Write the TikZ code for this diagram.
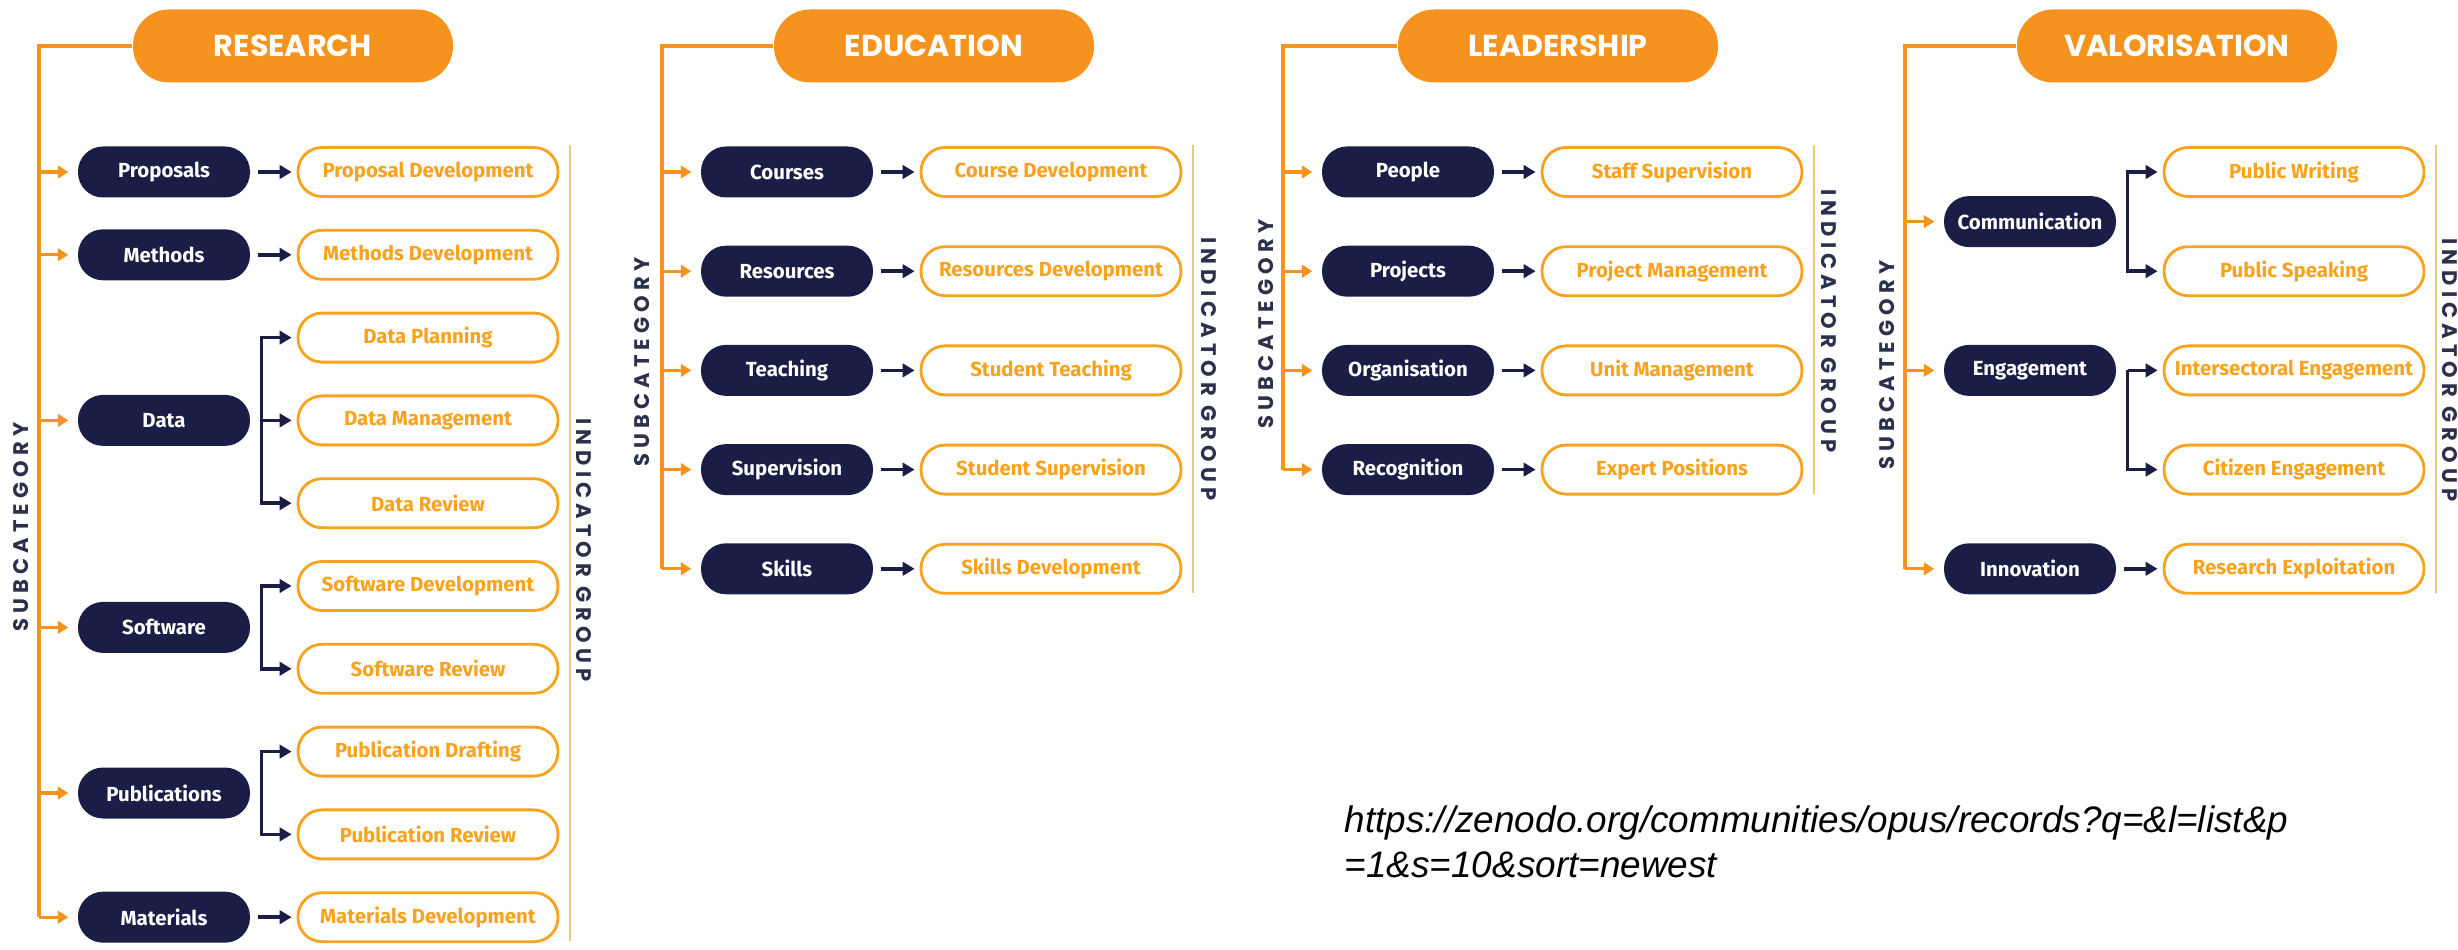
\documentclass[tikz,border=0pt]{standalone}
\usepackage{fontspec}
\usepackage{xcolor}
\usetikzlibrary{shapes,arrows.meta,positioning}
\setmainfont{Fira Sans}
\newfontfamily\headfont{Poppins}
\newfontfamily\labelfont[LetterSpace=24]{Poppins}
\newfontfamily\urlfont{Liberation Sans}
\definecolor{brandorange}{RGB}{246,146,30}
\definecolor{lineorange}{RGB}{248,162,30}
\definecolor{navy}{RGB}{26,30,70}
\definecolor{labelnavy}{RGB}{45,48,75}
\definecolor{barcolor}{RGB}{232,205,120}

\begin{document}
\begin{tikzpicture}[
    head/.style={rectangle, rounded corners=0.36cm, fill=brandorange, minimum width=3.2cm, minimum height=0.73cm, text=white, font=\headfont\bfseries\fontsize{8.6}{10}\selectfont},
    sub/.style={rectangle, rounded corners=0.25cm, fill=navy, minimum width=1.72cm, minimum height=0.51cm, inner xsep=1pt, text=white, font=\bfseries\fontsize{5.8}{7}\selectfont},
    ind/.style={rectangle, rounded corners=0.24cm, draw=lineorange, line width=0.8pt, fill=white, minimum width=2.6cm, minimum height=0.49cm, inner xsep=1pt, text=lineorange, font=\bfseries\fontsize{5.8}{7}\selectfont},
    sideline/.style={draw=brandorange, line width=0.9pt},
    subarrow/.style={draw=brandorange, line width=0.9pt, -{Triangle[length=3pt,width=3.6pt]}, shorten >=0.09cm},
    indarrow/.style={draw=navy, line width=1pt, -{Triangle[length=3.4pt,width=3.8pt]}, shorten >=0.05cm},
    groupbar/.style={draw=barcolor, line width=0.45pt},
    sublabel/.style={rotate=90, text=labelnavy, font=\labelfont\bfseries\fontsize{6}{7}\selectfont},
    grouplabel/.style={rotate=-90, text=labelnavy, font=\labelfont\bfseries\fontsize{6}{7}\selectfont},
    urltext/.style={inner sep=0pt, anchor=base west, font=\urlfont\itshape\fontsize{10.5}{12.6}\selectfont}
]
\useasboundingbox (0,0) rectangle (24.58,-9.5);

% Research
\node[head] (rhead) at (2.93,-0.46) {RESEARCH};
\node[sub] (rprop) at (1.64,-1.72) {Proposals};
\node[sub] (rmeth) at (1.64,-2.548) {Methods};
\node[sub] (rdata) at (1.64,-4.204) {Data};
\node[sub] (rsoft) at (1.64,-6.274) {Software};
\node[sub] (rpubl) at (1.64,-7.93) {Publications};
\node[sub] (rmat) at (1.64,-9.172) {Materials};
\node[ind] (rpropdev) at (4.28,-1.72) {Proposal Development};
\node[ind] (rmethdev) at (4.28,-2.548) {Methods Development};
\node[ind] (rdplan) at (4.28,-3.376) {Data Planning};
\node[ind] (rdman) at (4.28,-4.204) {Data Management};
\node[ind] (rdrev) at (4.28,-5.032) {Data Review};
\node[ind] (rsdev) at (4.28,-5.86) {Software Development};
\node[ind] (rsrev) at (4.28,-6.688) {Software Review};
\node[ind] (rpdraft) at (4.28,-7.516) {Publication Drafting};
\node[ind] (rprev) at (4.28,-8.344) {Publication Review};
\node[ind] (rmatdev) at (4.28,-9.172) {Materials Development};
\node[sublabel] (rsublabel) at (0.21,-5.27) {SUBCATEGORY};
\node[grouplabel] (rgrouplabel) at (5.84,-5.50) {INDICATOR GROUP};
\coordinate (rtrunk) at (0.39,-9.172);
\coordinate (rbartop) at (5.70,-1.45);
\coordinate (rbarbot) at (5.70,-9.41);
\draw[sideline] (rhead.west) -| (rtrunk);
\draw[groupbar] (rbartop) -- (rbarbot);
\draw[subarrow] (rtrunk |- rprop) -- (rprop);
\draw[subarrow] (rtrunk |- rmeth) -- (rmeth);
\draw[subarrow] (rtrunk |- rdata) -- (rdata);
\draw[subarrow] (rtrunk |- rsoft) -- (rsoft);
\draw[subarrow] (rtrunk |- rpubl) -- (rpubl);
\draw[subarrow] (rtrunk) -- (rmat);
\draw[indarrow, shorten <=0.07cm] (rprop) -- (rpropdev);
\draw[indarrow, shorten <=0.07cm] (rmeth) -- (rmethdev);
\draw[indarrow] ([xshift=0.11cm]rdata.east) |- (rdplan);
\draw[indarrow, shorten <=0.11cm] (rdata) -- (rdman);
\draw[indarrow] ([xshift=0.11cm]rdata.east) |- (rdrev);
\draw[indarrow] ([xshift=0.11cm]rsoft.east) |- (rsdev);
\draw[indarrow] ([xshift=0.11cm]rsoft.east) |- (rsrev);
\draw[indarrow] ([xshift=0.11cm]rpubl.east) |- (rpdraft);
\draw[indarrow] ([xshift=0.11cm]rpubl.east) |- (rprev);
\draw[indarrow, shorten <=0.07cm] (rmat) -- (rmatdev);

% Education
\node[head] (ehead) at (9.34,-0.46) {EDUCATION};
\node[sub] (ecour) at (7.87,-1.72) {Courses};
\node[sub] (eres) at (7.87,-2.712) {Resources};
\node[sub] (eteach) at (7.87,-3.704) {Teaching};
\node[sub] (esup) at (7.87,-4.696) {Supervision};
\node[sub] (eskill) at (7.87,-5.688) {Skills};
\node[ind] (ecourdev) at (10.51,-1.72) {Course Development};
\node[ind] (eresdev) at (10.51,-2.712) {Resources Development};
\node[ind] (estteach) at (10.51,-3.704) {Student Teaching};
\node[ind] (estsup) at (10.51,-4.696) {Student Supervision};
\node[ind] (eskilldev) at (10.51,-5.688) {Skills Development};
\node[sublabel] (esublabel) at (6.42,-3.62) {SUBCATEGORY};
\node[grouplabel] (egrouplabel) at (12.09,-3.69) {INDICATOR GROUP};
\coordinate (etrunk) at (6.62,-5.688);
\coordinate (ebartop) at (11.93,-1.45);
\coordinate (ebarbot) at (11.93,-5.93);
\draw[sideline] (ehead.west) -| (etrunk);
\draw[groupbar] (ebartop) -- (ebarbot);
\draw[subarrow] (etrunk |- ecour) -- (ecour);
\draw[subarrow] (etrunk |- eres) -- (eres);
\draw[subarrow] (etrunk |- eteach) -- (eteach);
\draw[subarrow] (etrunk |- esup) -- (esup);
\draw[subarrow] (etrunk) -- (eskill);
\draw[indarrow, shorten <=0.07cm] (ecour) -- (ecourdev);
\draw[indarrow, shorten <=0.07cm] (eres) -- (eresdev);
\draw[indarrow, shorten <=0.07cm] (eteach) -- (estteach);
\draw[indarrow, shorten <=0.07cm] (esup) -- (estsup);
\draw[indarrow, shorten <=0.07cm] (eskill) -- (eskilldev);

% Leadership
\node[head] (lhead) at (15.58,-0.46) {LEADERSHIP};
\node[sub] (lpeople) at (14.08,-1.72) {People};
\node[sub] (lproj) at (14.08,-2.712) {Projects};
\node[sub] (lorg) at (14.08,-3.704) {Organisation};
\node[sub] (lrecog) at (14.08,-4.696) {Recognition};
\node[ind] (lstaff) at (16.72,-1.72) {Staff Supervision};
\node[ind] (lprojman) at (16.72,-2.712) {Project Management};
\node[ind] (lunit) at (16.72,-3.704) {Unit Management};
\node[ind] (lexpert) at (16.72,-4.696) {Expert Positions};
\node[sublabel] (lsublabel) at (12.66,-3.24) {SUBCATEGORY};
\node[grouplabel] (lgrouplabel) at (18.29,-3.21) {INDICATOR GROUP};
\coordinate (ltrunk) at (12.83,-4.696);
\coordinate (lbartop) at (18.14,-1.45);
\coordinate (lbarbot) at (18.14,-4.94);
\draw[sideline] (lhead.west) -| (ltrunk);
\draw[groupbar] (lbartop) -- (lbarbot);
\draw[subarrow] (ltrunk |- lpeople) -- (lpeople);
\draw[subarrow] (ltrunk |- lproj) -- (lproj);
\draw[subarrow] (ltrunk |- lorg) -- (lorg);
\draw[subarrow] (ltrunk) -- (lrecog);
\draw[indarrow, shorten <=0.07cm] (lpeople) -- (lstaff);
\draw[indarrow, shorten <=0.07cm] (lproj) -- (lprojman);
\draw[indarrow, shorten <=0.07cm] (lorg) -- (lunit);
\draw[indarrow, shorten <=0.07cm] (lrecog) -- (lexpert);

% Valorisation
\node[head] (vhead) at (21.77,-0.46) {VALORISATION};
\node[sub] (vcomm) at (20.30,-2.216) {Communication};
\node[sub] (veng) at (20.30,-3.704) {Engagement};
\node[sub] (vinno) at (20.30,-5.688) {Innovation};
\node[ind] (vwrite) at (22.94,-1.72) {Public Writing};
\node[ind] (vspeak) at (22.94,-2.712) {Public Speaking};
\node[ind] (vinter) at (22.94,-3.704) {Intersectoral Engagement};
\node[ind] (vcitizen) at (22.94,-4.696) {Citizen Engagement};
\node[ind] (vexploit) at (22.94,-5.688) {Research Exploitation};
\node[sublabel] (vsublabel) at (18.87,-3.65) {SUBCATEGORY};
\node[grouplabel] (vgrouplabel) at (24.50,-3.70) {INDICATOR GROUP};
\coordinate (vtrunk) at (19.05,-5.688);
\coordinate (vbartop) at (24.36,-1.45);
\coordinate (vbarbot) at (24.36,-5.93);
\draw[sideline] (vhead.west) -| (vtrunk);
\draw[groupbar] (vbartop) -- (vbarbot);
\draw[subarrow] (vtrunk |- vcomm) -- (vcomm);
\draw[subarrow] (vtrunk |- veng) -- (veng);
\draw[subarrow] (vtrunk) -- (vinno);
\draw[indarrow] ([xshift=0.11cm]vcomm.east) |- (vwrite);
\draw[indarrow] ([xshift=0.11cm]vcomm.east) |- (vspeak);
\draw[indarrow, shorten <=0.11cm] (veng) -- (vinter);
\draw[indarrow] ([xshift=0.11cm]veng.east) |- (vcitizen);
\draw[indarrow, shorten <=0.07cm] (vinno) -- (vexploit);

\node[urltext] (url1) at (13.44,-8.32) {https://zenodo.org/communities/opus/records?q=\&l=list\&p};
\node[urltext] (url2) at ([yshift=-0.45cm]url1.base west) {=1\&s=10\&sort=newest};
\end{tikzpicture}
\end{document}
